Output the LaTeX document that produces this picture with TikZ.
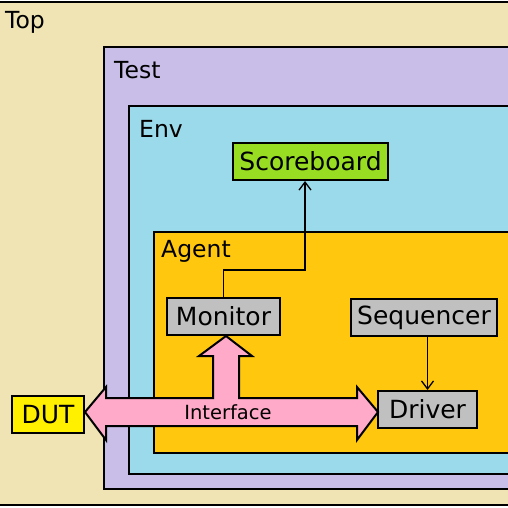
\documentclass[tikz,border=0pt]{standalone}
\usepackage{fontspec}
\setmainfont{DejaVu Sans}
\usetikzlibrary{arrows.meta}
\definecolor{topbg}{RGB}{240,228,180}
\definecolor{testbg}{RGB}{200,190,232}
\definecolor{envbg}{RGB}{155,218,234}
\definecolor{agentbg}{RGB}{255,200,15}
\definecolor{unitbg}{RGB}{192,192,192}
\definecolor{dutbg}{RGB}{255,240,0}
\definecolor{scorebg}{RGB}{153,221,34}
\definecolor{busbg}{RGB}{255,170,200}

\begin{document}
\begin{tikzpicture}[x=1pt,y=-1pt,
  frame/.style={draw=black,line width=2pt},
  lbl/.style={anchor=base west,inner sep=0pt,font=\fontsize{23.5}{28}\selectfont},
  unit/.style={draw=black,line width=2pt,minimum height=37pt,inner sep=0pt,font=\fontsize{25}{30}\selectfont},
  link/.style={black,line width=1.3pt,-{Straight Barb[length=8pt,width=12pt]}},
  bus/.style={draw=black,line width=2pt,fill=busbg}]
\useasboundingbox (0,0) rectangle (508,508);
\clip (0,0) rectangle (508,508);
\draw[frame,fill=topbg] (-10,2) rectangle (520,505);
\node[lbl] (toplbl) at (5,29) {Top};
\draw[frame,fill=testbg] (104,47) rectangle (520,489);
\node[lbl] (testlbl) at (114,79) {Test};
\draw[frame,fill=envbg] (128.5,106) rectangle (520,474);
\node[lbl] (envlbl) at (139,137) {Env};
\draw[frame,fill=agentbg] (153.5,232) rectangle (520,453);
\node[lbl] (agentlbl) at (161,257) {Agent};

\node[unit,fill=scorebg,minimum width=155pt] (scoreboard) at (310.5,161.5) {Scoreboard};
\node[unit,fill=unitbg,minimum width=113pt] (monitor) at (223.5,316.5) {Monitor};
\node[unit,fill=unitbg,minimum width=146pt] (sequencer) at (424,317.5) {Sequencer};
\node[unit,fill=unitbg,minimum width=99pt] (driver) at (427.5,409.5) {Driver};
\node[unit,fill=dutbg,minimum width=72pt] (dut) at (48,414.5) {DUT};

\draw[bus] (85,412) -- (106,387) -- (106,398) -- (213,398) -- (213,356) -- (199,356)
  -- (226,336) -- (252,356) -- (239,356) -- (239,398) -- (357,398) -- (357,387)
  -- (378,412) -- (357,440) -- (357,426) -- (106,426) -- (106,440) -- cycle;
\node[font=\fontsize{19.5}{23}\selectfont] (iface) at (228,412) {Interface};

\draw[link] (monitor.north) -- ++(0,-27) -| ([xshift=-5.5pt]scoreboard.south);
\draw[link] (driver.north |- sequencer.south) -- (driver.north);
\end{tikzpicture}
\end{document}
